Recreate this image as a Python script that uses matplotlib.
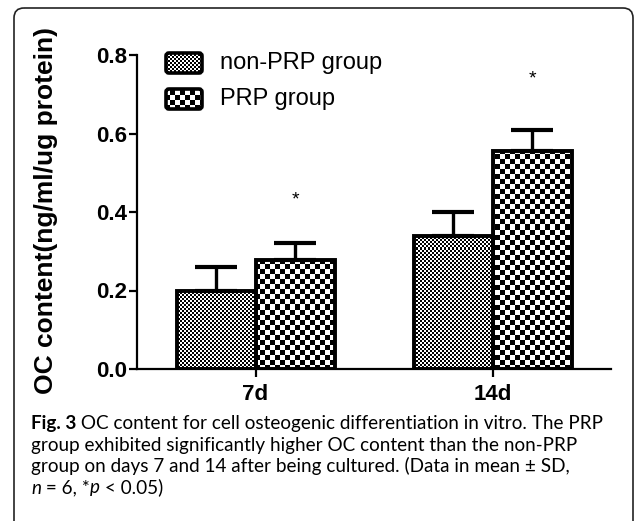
import numpy as np
import matplotlib
matplotlib.use('Agg')
import matplotlib.pyplot as plt
from matplotlib.patches import FancyBboxPatch

# data
days = ['7d', '14d']
groups = ['non-PRP group', 'PRP group']
non_prp = [0.20, 0.34]
non_prp_sd = [0.06, 0.06]
prp = [0.278, 0.556]
prp_sd = [0.042, 0.053]
star_y = [0.43, 0.74]
yticks = [0.0, 0.2, 0.4, 0.6, 0.8]

caption = [
    [('Fig. 3', 'bold', 'normal'),
     (' OC content for cell osteogenic differentiation in vitro. The PRP', 'normal', 'normal')],
    [('group exhibited significantly higher OC content than the non-PRP', 'normal', 'normal')],
    [('group on days 7 and 14 after being cultured. (Data in mean \u00b1 SD,', 'normal', 'normal')],
    [('n', 'normal', 'italic'), (' = 6, *', 'normal', 'normal'), ('p', 'normal', 'italic'),
     (' < 0.05)', 'normal', 'normal')],
]

W, H = 635, 521
plt.rcParams['font.family'] = ['Liberation Sans', 'DejaVu Sans']
fig = plt.figure(figsize=(W / 100, H / 100), dpi=100)

# background axes in pixel coordinates (textures, frame, legend, caption)
bg = fig.add_axes([0, 0, 1, 1])
bg.set_zorder(-1)
bg.axis('off')

ax = fig.add_axes([137 / W, 1 - 369 / H, (611 - 137) / W, (369 - 55) / H])
ax.patch.set_alpha(0)

yy, xx = np.mgrid[0:H, 0:W]


def texture(patch, cell):
    arr = ((yy // cell + xx // cell) % 2).astype(float)
    im = bg.imshow(arr, cmap='gray', vmin=0, vmax=1, extent=(0, W, H, 0),
                   interpolation='nearest', aspect='auto')
    im.set_clip_path(patch)
    return im


cells = [2, 5]
x = np.arange(len(days))
w = 1 / 3
err_kw = dict(ecolor='black', elinewidth=2.4, capsize=15, capthick=3)
b1 = ax.bar(x - w / 2, non_prp, w, yerr=[np.zeros(2), non_prp_sd],
            facecolor='none', edgecolor='black', linewidth=2.8, error_kw=err_kw)
b2 = ax.bar(x + w / 2, prp, w, yerr=[np.zeros(2), prp_sd],
            facecolor='none', edgecolor='black', linewidth=2.8, error_kw=err_kw)
for bars, c in zip([b1, b2], cells):
    for p in bars.patches:
        texture(p, c)

for xi, sy in zip(x, star_y):
    ax.text(xi + w / 2, sy, '*', ha='center', va='center', fontsize=14)

ax.set_xlim(-0.5, 1.5)
ax.set_ylim(0, 0.8)
ax.set_xticks(x)
ax.set_xticklabels(days, fontsize=16, fontweight='bold')
ax.set_yticks(yticks)
ax.set_yticklabels([f'{v:.1f}' for v in yticks], fontsize=16, fontweight='bold')
for s in ['top', 'right']:
    ax.spines[s].set_visible(False)
for s in ['left', 'bottom']:
    ax.spines[s].set_linewidth(1.6)
ax.tick_params(axis='y', length=6, width=1.6, pad=1)
ax.tick_params(axis='x', length=6, width=1.6, pad=5)
ax.set_ylabel('OC content(ng/ml/ug protein)', fontsize=19, fontweight='bold')
ax.yaxis.set_label_coords((46 - 137) / 474, (369 - 210) / 314)
ax.yaxis.label.set_va('center')

# legend
for i, (lab, c) in enumerate(zip(groups, cells)):
    ty = 63 + 36 * i
    box = FancyBboxPatch((166, ty - 10), 36, 20, boxstyle='round,pad=0,rounding_size=3',
                         facecolor='none', edgecolor='black', linewidth=2.6, zorder=3)
    bg.add_patch(box)
    texture(box, c)
    bg.text(220, ty, lab, fontsize=17, va='center', ha='left')

# frame
frame = FancyBboxPatch((14, 8), 619, 600, boxstyle='round,pad=0,rounding_size=10',
                       facecolor='none', edgecolor='#222222', linewidth=1.2, zorder=3)
bg.add_patch(frame)

# caption
for li, parts in enumerate(caption):
    prev = None
    for txt, wt, st in parts:
        kw = dict(fontsize=13.6, fontweight=wt, fontstyle=st, family=['Lato', 'DejaVu Sans'])
        if prev is None:
            prev = bg.text(31, 429 + 21.5 * li, txt, va='baseline', ha='left', **kw)
        else:
            prev = bg.annotate(txt, xy=(1, 0), xycoords=prev, va='bottom', ha='left', **kw)

bg.set_xlim(0, W)
bg.set_ylim(H, 0)

fig.savefig('out.png', dpi=100)
